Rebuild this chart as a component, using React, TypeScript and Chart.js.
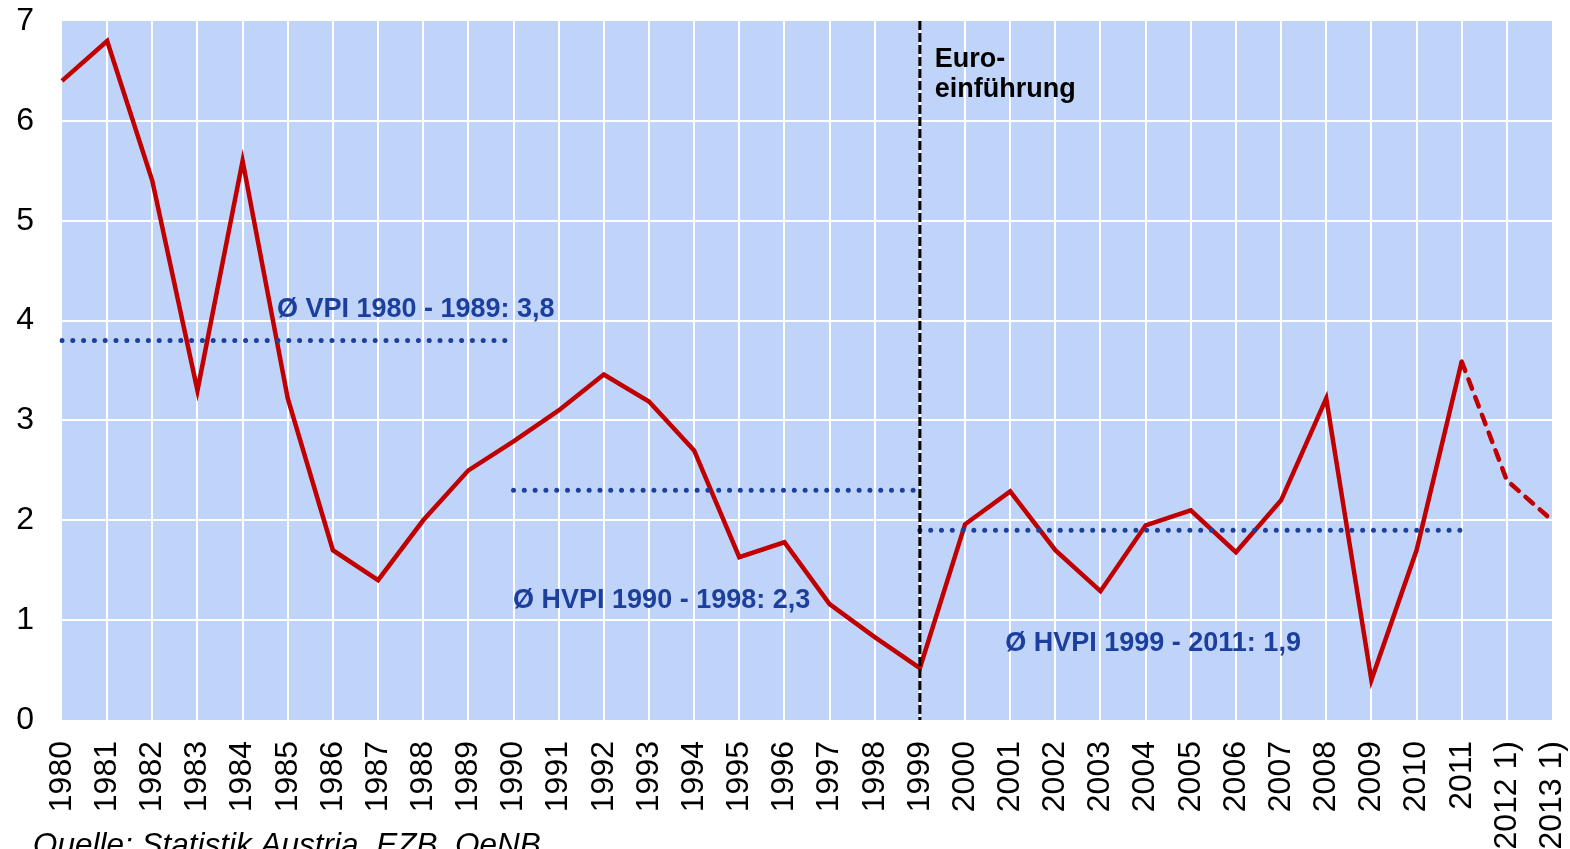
import React, { useEffect, useRef } from 'react';
import { Chart, registerables } from 'chart.js';

Chart.register(...registerables);

const categories = [
  '1980', '1981', '1982', '1983', '1984', '1985', '1986', '1987', '1988', '1989',
  '1990', '1991', '1992', '1993', '1994', '1995', '1996', '1997', '1998', '1999',
  '2000', '2001', '2002', '2003', '2004', '2005', '2006', '2007', '2008', '2009',
  '2010', '2011', '2012 1)', '2013 1)',
];

const inflation = [
  6.4, 6.8, 5.4, 3.3, 5.6, 3.22, 1.7, 1.4, 2.0, 2.5,
  2.79, 3.1, 3.46, 3.19, 2.7, 1.63, 1.78, 1.16, 0.83, 0.52,
  1.96, 2.29, 1.7, 1.29, 1.95, 2.1, 1.68, 2.2, 3.22, 0.4,
  1.7, 3.59, 2.4, 2.0,
];

// index from which the line is a forecast (dashed)
const forecastFrom = 31;

const avgValues = [3.8, 2.3, 1.9];
const avgStart = [0, 10, 19];
const avgEnd = [10, 19, 31];
const avgLabels = ['Ø VPI 1980 - 1989: 3,8', 'Ø HVPI 1990 - 1998: 2,3', 'Ø HVPI 1999 - 2011: 1,9'];
const avgLabelX = [4.76, 9.99, 20.89];
const avgLabelY = [4.11, 1.195, 0.763];

const euroIndex = 19;
const euroLabel = ['Euro-', 'einführung'];
const euroLabelX = 19.33;
const euroLabelY = [6.61, 6.31];

const yMin = 0;
const yMax = 7;

const sourceText = 'Quelle: Statistik Austria, EZB, OeNB';

const FONT = '"Liberation Sans", Arial, sans-serif';
const RED = '#c00000';
const BLUE = '#1c3f9c';
const BG = '#c0d3f8';

const bgPlugin = {
  id: 'plotBg',
  beforeDraw(chart: any) {
    const { ctx, chartArea: a } = chart;
    ctx.save();
    ctx.fillStyle = BG;
    ctx.fillRect(a.left, a.top, a.right - a.left, a.bottom - a.top);
    ctx.restore();
  },
};

const overlayPlugin = {
  id: 'overlay',
  afterDatasetsDraw(chart: any) {
    const { ctx, chartArea: a, scales } = chart;
    const x = scales.x.getPixelForValue(euroIndex);
    ctx.save();
    ctx.strokeStyle = '#000000';
    ctx.lineWidth = 3;
    ctx.setLineDash([9, 3]);
    ctx.beginPath();
    ctx.moveTo(x, a.top);
    ctx.lineTo(x, a.bottom);
    ctx.stroke();
    ctx.restore();
  },
  afterDraw(chart: any) {
    const { ctx, scales } = chart;
    const xs = scales.x;
    const ys = scales.y;
    const step = xs.getPixelForValue(1) - xs.getPixelForValue(0);
    const x0 = xs.getPixelForValue(0);
    ctx.save();
    ctx.textBaseline = 'middle';
    ctx.textAlign = 'left';
    ctx.font = `bold 27px ${FONT}`;
    ctx.fillStyle = BLUE;
    avgLabels.forEach((t, i) => {
      ctx.fillText(t, x0 + step * avgLabelX[i], ys.getPixelForValue(avgLabelY[i]));
    });
    ctx.fillStyle = '#000000';
    euroLabel.forEach((t, i) => {
      ctx.fillText(t, x0 + step * euroLabelX, ys.getPixelForValue(euroLabelY[i]));
    });
    ctx.font = `italic 31.5px ${FONT}`;
    ctx.textBaseline = 'alphabetic';
    ctx.fillStyle = '#000000';
    ctx.fillText(sourceText, 33, 855);
    ctx.restore();
  },
};

function spanData(i: number) {
  return categories.map((_, k) => (k >= avgStart[i] && k <= avgEnd[i] ? avgValues[i] : null));
}

function zeroPad(scale: any) {
  scale.paddingTop = 0;
  scale.paddingBottom = 0;
  scale.paddingLeft = 0;
  scale.paddingRight = 0;
}

export default function App() {
  const ref = useRef<HTMLCanvasElement | null>(null);

  useEffect(() => {
    if (!ref.current) return;
    const avgDatasets = avgValues.map((_, i) => ({
      label: avgLabels[i],
      data: spanData(i),
      borderColor: BLUE,
      borderWidth: 5,
      borderDash: [0, 10.8],
      borderCapStyle: 'round',
      pointRadius: 0,
      fill: false,
      spanGaps: false,
      order: 0,
    }));
    const chart = new Chart(ref.current, {
      type: 'line',
      data: {
        labels: categories,
        datasets: [
          ...avgDatasets,
          {
            label: 'Inflation',
            data: inflation,
            borderColor: RED,
            borderWidth: 4.5,
            borderJoinStyle: 'miter',
            pointRadius: 0,
            fill: false,
            tension: 0,
            order: 1,
            segment: {
              borderDash: (c: any) => (c.p0DataIndex >= forecastFrom ? [10, 9] : undefined),
              borderCapStyle: (c: any) => (c.p0DataIndex >= forecastFrom ? 'round' : 'butt'),
            },
          } as any,
        ],
      },
      options: {
        responsive: false,
        animation: false,
        layout: { padding: { top: 21, right: 18, left: 0, bottom: 0 } },
        plugins: {
          legend: { display: false },
          tooltip: { enabled: false },
        },
        scales: {
          x: {
            offset: false,
            border: { display: false },
            grid: {
              drawTicks: false,
              lineWidth: 2,
              color: (c: any) => (c.index === 0 || c.index === categories.length - 1 ? 'rgba(0,0,0,0)' : '#ffffff'),
            },
            ticks: {
              autoSkip: false,
              maxRotation: 90,
              minRotation: 90,
              padding: 21,
              color: '#000000',
              font: { family: FONT, size: 32 },
            },
            afterFit(scale: any) {
              scale.height = 129;
              zeroPad(scale);
            },
          },
          y: {
            min: yMin,
            max: yMax,
            border: { display: false },
            grid: {
              drawTicks: false,
              lineWidth: 2,
              color: (c: any) => (c.tick && (c.tick.value === yMin || c.tick.value === yMax) ? 'rgba(0,0,0,0)' : '#ffffff'),
            },
            ticks: {
              stepSize: 1,
              padding: 28,
              color: '#000000',
              font: { family: FONT, size: 32 },
            },
            afterFit(scale: any) {
              scale.width = 62;
              zeroPad(scale);
            },
          },
        },
      } as any,
      plugins: [bgPlugin, overlayPlugin],
    });
    return () => chart.destroy();
  }, []);

  return (
    <div style={{ position: 'absolute', left: 0, top: 0, width: 1570, height: 849, background: '#ffffff' }}>
      <canvas ref={ref} width={1570} height={849} style={{ display: 'block' }} />
    </div>
  );
}
